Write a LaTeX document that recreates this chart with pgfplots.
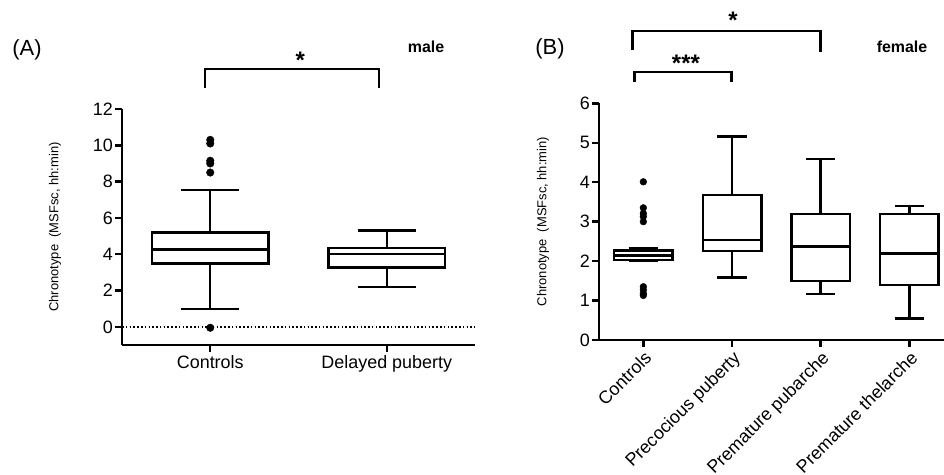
\documentclass[border=0pt]{standalone}
\usepackage{pgfplots}
\pgfplotsset{compat=1.18}
\usepgfplotslibrary{statistics}
\usepackage{fontspec}
\setmainfont{Liberation Sans}

\pgfplotsset{
  panel/.style={
    scale only axis,
    clip=false,
    axis x line*=bottom,
    axis y line*=left,
    axis line style={line width=2.5pt,-},
    every tick/.style={black,line width=2.5pt},
    major tick length=7pt,
    tick align=outside,
    /pgf/number format/assume math mode=true,
    tick label style={font=\fontsize{18}{20}\selectfont},
    yticklabel style={inner sep=2pt},
    xticklabel style={inner sep=3pt},
    ylabel={Chronotype\ \ (MSFsc, hh:min)},
    boxplot/draw direction=y,
  },
  ylab/.style={every axis y label/.style={at={(axis description cs:#1,0.5)},
    rotate=90,anchor=center,font=\fontsize{13}{15}\selectfont}},
  bx/.style={black,line width=2.5pt,solid},
  outl/.style={only marks,mark=*,black,mark size=3.8pt},
}

\begin{document}
\begin{tikzpicture}
\useasboundingbox (0,0) rectangle (944bp,475bp);

% (A) male
\begin{axis}[panel,ylab=-0.19,
  at={(122bp,130bp)}, anchor=south west,
  width=353bp, height=236bp,
  xmin=-0.5, xmax=1.5, ymin=-1, ymax=12,
  xtick={0,1}, xticklabels={Controls,Delayed puberty},
  ytick={0,2,4,6,8,10,12},
]
\addplot[black,line width=1.6pt,dash pattern=on 1.6pt off 2.2pt] coordinates {(-0.5,0) (1.5,0)};
\addplot[bx,boxplot prepared={draw position=0,
  median=4.27, upper quartile=5.19, lower quartile=3.50,
  upper whisker=7.54, lower whisker=0.99,
  box extend=0.66, whisker extend=0.33}] coordinates {};
\addplot[bx,boxplot prepared={draw position=1,
  median=4.02, upper quartile=4.35, lower quartile=3.26,
  upper whisker=5.30, lower whisker=2.20,
  box extend=0.66, whisker extend=0.33}] coordinates {};
\addplot[outl] coordinates {(0,10.3) (0,10.1) (0,9.15) (0,9.0) (0,8.5) (0,-0.05)};
\draw[line width=2.5pt] (axis cs:-0.03,13.15) |- (axis cs:0.955,14.2) -- (axis cs:0.955,13.15);
\node[font=\fontsize{24}{26}\selectfont\bfseries] at (axis cs:0.51,14.7) {*};
\end{axis}

% (B) female
\begin{axis}[panel,ylab=-0.162,
  at={(599bp,135bp)}, anchor=south west,
  width=345bp, height=236.7bp,
  xmin=-0.5, xmax=3.39, ymin=0, ymax=6,
  xtick={0,1,2,3},
  xticklabels={Controls,Precocious puberty,Premature pubarche,Premature thelarche},
  xticklabel style={rotate=45,anchor=north east,inner sep=2pt},
  ytick={0,1,...,6},
]
\addplot[bx,boxplot prepared={draw position=0,
  median=2.14, upper quartile=2.27, lower quartile=2.03,
  upper whisker=2.32, lower whisker=2.02,
  box extend=0.66, whisker extend=0.33}] coordinates {};
\addplot[bx,boxplot prepared={draw position=1,
  median=2.53, upper quartile=3.67, lower quartile=2.25,
  upper whisker=5.16, lower whisker=1.59,
  box extend=0.66, whisker extend=0.33}] coordinates {};
\addplot[bx,boxplot prepared={draw position=2,
  median=2.37, upper quartile=3.20, lower quartile=1.50,
  upper whisker=4.59, lower whisker=1.16,
  box extend=0.66, whisker extend=0.33}] coordinates {};
\addplot[bx,boxplot prepared={draw position=3,
  median=2.19, upper quartile=3.19, lower quartile=1.39,
  upper whisker=3.40, lower whisker=0.55,
  box extend=0.66, whisker extend=0.33}] coordinates {};
\addplot[outl,mark size=3.4pt] coordinates {(0,4.01) (0,3.35) (0,3.21) (0,3.13) (0,3.0)
  (0,1.35) (0,1.27) (0,1.18) (0,1.13)};
\draw[line width=2.5pt] (axis cs:-0.12,7.35) |- (axis cs:2.0,7.83) -- (axis cs:2.0,7.30);
\draw[line width=2.5pt] (axis cs:-0.10,6.54) |- (axis cs:0.995,6.80) -- (axis cs:0.995,6.54);
\node[font=\fontsize{24}{26}\selectfont\bfseries] at (axis cs:1.01,8.1) {*};
\node[font=\fontsize{24}{26}\selectfont\bfseries] at (axis cs:0.48,7.02) {***};
\end{axis}

\node[font=\fontsize{22}{24}\selectfont] at (27bp,425bp) {(A)};
\node[font=\fontsize{16}{18}\selectfont\bfseries] at (426bp,428bp) {male};
\node[font=\fontsize{22}{24}\selectfont] at (550bp,426bp) {(B)};
\node[font=\fontsize{16}{18}\selectfont\bfseries] at (902bp,428bp) {female};
\end{tikzpicture}
\end{document}
